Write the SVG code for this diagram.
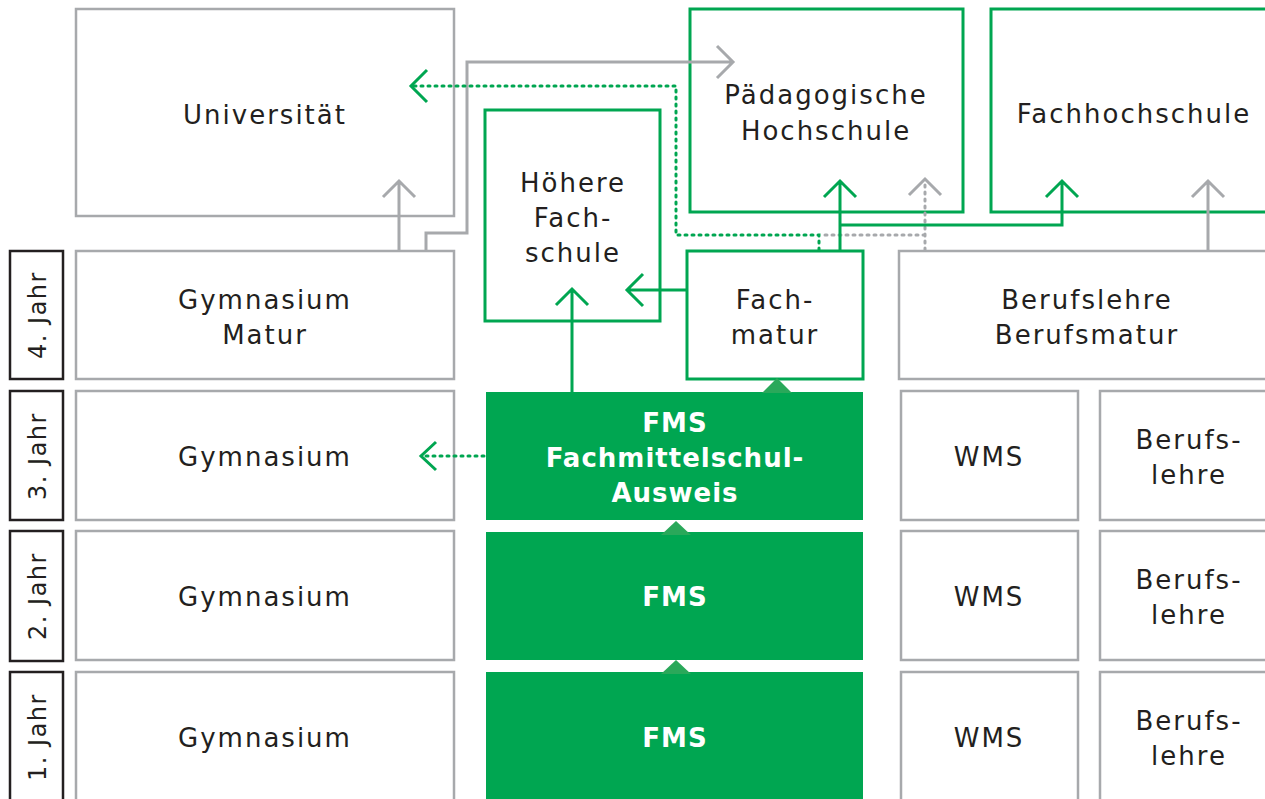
<svg xmlns="http://www.w3.org/2000/svg" width="1265" height="799" viewBox="0 0 1265 799">
<defs>
<style>
.gb{fill:#fff;stroke:#a7a9ac;stroke-width:2.5}
.gr{fill:#fff;stroke:#00a651;stroke-width:3}
.fm{fill:#00a651}
.jb{fill:#fff;stroke:#231f20;stroke-width:2.5}
.tri{fill:#2aa85a}
text{font-family:"DejaVu Sans","Liberation Sans",sans-serif;font-size:26px;fill:#231f20;text-anchor:middle;letter-spacing:2px}
.w{fill:#fff;font-weight:bold;letter-spacing:1px}
.j{font-size:24px;letter-spacing:1.5px}
.lg{fill:none;stroke:#a7a9ac;stroke-width:3}
.lgr{fill:none;stroke:#00a651;stroke-width:3}
.dg{fill:none;stroke:#a7a9ac;stroke-width:3;stroke-dasharray:2 5;stroke-linecap:round}
.dgr{fill:none;stroke:#00a651;stroke-width:3;stroke-dasharray:2 5;stroke-linecap:round}
</style>
</defs>
<rect width="1265" height="799" fill="#fff"/>

<g id="universitaet"><rect class="gb" x="76" y="9" width="378" height="207"/><text x="265" y="124">Universität</text></g>
<g id="paedagogische-hochschule"><rect class="gr" x="690" y="9" width="273" height="203"/><text x="826" y="104">Pädagogische</text><text x="826" y="140">Hochschule</text></g>
<g id="fachhochschule"><rect class="gr" x="991" y="9" width="290" height="203"/><text x="1134" y="123">Fachhochschule</text></g>
<g id="hoehere-fachschule"><rect class="gr" x="485" y="110" width="175" height="211"/><text x="573" y="192">Höhere</text><text x="573" y="227">Fach-</text><text x="573" y="262">schule</text></g>

<g id="jahr4"><rect class="jb" x="10" y="251" width="53" height="128"/><text class="j" transform="translate(46,315) rotate(-90)">4. Jahr</text></g>
<g id="jahr3"><rect class="jb" x="10" y="391" width="53" height="129"/><text class="j" transform="translate(46,456) rotate(-90)">3. Jahr</text></g>
<g id="jahr2"><rect class="jb" x="10" y="531" width="53" height="130"/><text class="j" transform="translate(46,596) rotate(-90)">2. Jahr</text></g>
<g id="jahr1"><rect class="jb" x="10" y="672" width="53" height="135"/><text class="j" transform="translate(46,737) rotate(-90)">1. Jahr</text></g>

<g id="gymnasium-matur"><rect class="gb" x="76" y="251" width="378" height="128"/><text x="265" y="309">Gymnasium</text><text x="265" y="344">Matur</text></g>
<g id="gymnasium3"><rect class="gb" x="76" y="391" width="378" height="129"/><text x="265" y="466">Gymnasium</text></g>
<g id="gymnasium2"><rect class="gb" x="76" y="531" width="378" height="129"/><text x="265" y="606">Gymnasium</text></g>
<g id="gymnasium1"><rect class="gb" x="76" y="672" width="378" height="135"/><text x="265" y="747">Gymnasium</text></g>

<g id="fachmatur"><rect class="gr" x="687" y="251" width="176" height="128"/><text x="775" y="309">Fach-</text><text x="775" y="344">matur</text></g>
<g id="berufsmatur"><rect class="gb" x="899" y="251" width="380" height="128"/><text x="1087" y="309">Berufslehre</text><text x="1087" y="344">Berufsmatur</text></g>

<g id="fms3"><rect class="fm" x="486" y="392" width="377" height="128"/><text class="w" x="675" y="432">FMS</text><text class="w" x="675" y="467">Fachmittelschul-</text><text class="w" x="675" y="502">Ausweis</text></g>
<g id="fms2"><rect class="fm" x="486" y="532" width="377" height="128"/><text class="w" x="675" y="606">FMS</text></g>
<g id="fms1"><rect class="fm" x="486" y="672" width="377" height="135"/><text class="w" x="675" y="747">FMS</text></g>

<g id="wms3"><rect class="gb" x="901" y="391" width="177" height="129"/><text x="989" y="466">WMS</text></g>
<g id="wms2"><rect class="gb" x="901" y="531" width="177" height="129"/><text x="989" y="606">WMS</text></g>
<g id="wms1"><rect class="gb" x="901" y="672" width="177" height="135"/><text x="989" y="747">WMS</text></g>
<g id="berufslehre3"><rect class="gb" x="1100" y="391" width="180" height="129"/><text x="1189" y="449">Berufs-</text><text x="1189" y="484">lehre</text></g>
<g id="berufslehre2"><rect class="gb" x="1100" y="531" width="180" height="129"/><text x="1189" y="589">Berufs-</text><text x="1189" y="624">lehre</text></g>
<g id="berufslehre1"><rect class="gb" x="1100" y="672" width="180" height="135"/><text x="1189" y="730">Berufs-</text><text x="1189" y="765">lehre</text></g>

<g id="connectors">
<polygon class="tri" points="777,378 762,393 792,393"/>
<polygon class="tri" points="676,521 661,535 691,535"/>
<polygon class="tri" points="676,660 661,674 691,674"/>

<path class="lg" d="M399,250 V181 M383,197 L399,181 L415,197"/>
<path class="lg" d="M426,250 V233 H467 V62 H733 M717,46 L733,62 L717,78"/>
<path class="lg" d="M1208,250 V181 M1192,197 L1208,181 L1224,197"/>
<path class="dg" d="M925,250 V182 M925,235 H822"/>
<path class="lg" d="M909,195 L925,179 L941,195"/>
<path class="dgr" d="M819,250 V235 H676 V86 H414"/>
<path class="lgr" d="M427,70 L411,86 L427,102"/>
<path class="lgr" d="M840,250 V181 M824,197 L840,181 L856,197 M840,225 H1062 V181 M1046,197 L1062,181 L1078,197"/>
<path class="lgr" d="M687,290 H627 M643,274 L627,290 L643,306"/>
<path class="lgr" d="M572,392 V289 M556,305 L572,289 L588,305"/>
<path class="dgr" d="M484,456 H422"/>
<path class="lgr" d="M436,442 L421,456 L436,470"/>
</g>
</svg>
